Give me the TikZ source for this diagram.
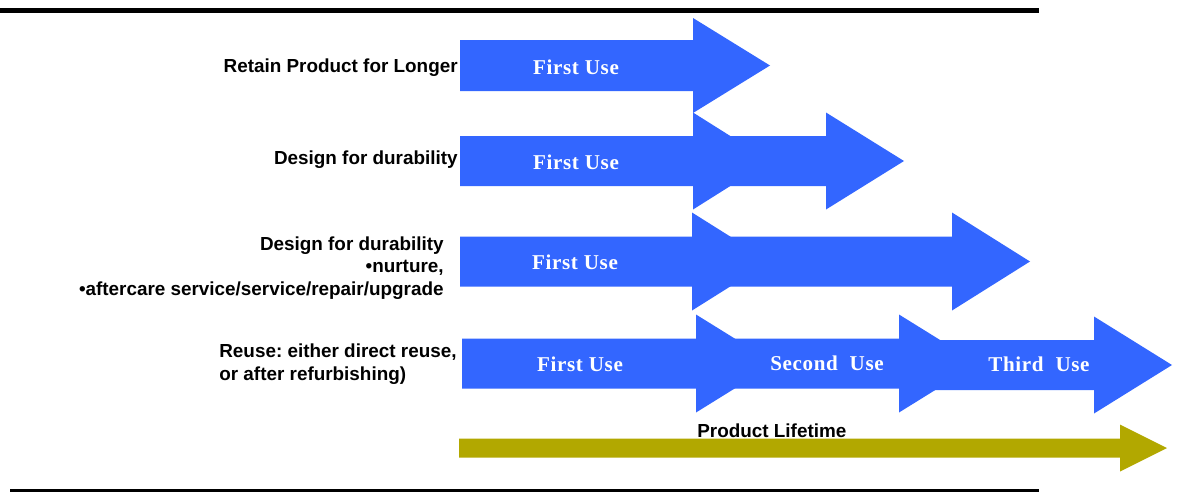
\documentclass[tikz,border=0pt]{standalone}
\usepackage{fontspec}
\setmainfont{Liberation Sans}
\newfontfamily\usefnt[LetterSpace=3]{Liberation Serif}
\definecolor{useblue}{RGB}{51,102,255}
\definecolor{lifegold}{RGB}{178,168,0}
\tikzset{
    %Define style for the texts inside the arrows
    use/.style={
           text=white,
           inner sep=0pt,
           font=\usefnt\bfseries\fontsize{12}{13}\selectfont},
    %Define style for the labels at the left
    strategy/.style={
           text=black,
           inner sep=0pt,
           font=\frenchspacing\bfseries\fontsize{10.75}{13}\selectfont},
    %Define style for the horizontal rules
    rule/.style={
           draw=black,
           line cap=butt}
}
% block arrow: colour, start x, head x, tip x, mid y, half shaft, half head
\newcommand{\blockarrow}[7]{%
  \fill[#1] (#2,#5-#6) -- (#3,#5-#6) -- (#3,#5-#7) -- (#4,#5)
    -- (#3,#5+#7) -- (#3,#5+#6) -- (#2,#5+#6) -- cycle;}

\begin{document}
\begin{tikzpicture}[x=0.02cm,y=-0.02cm]
\useasboundingbox (0,0) rectangle (1179,491);
 %rules
\draw[rule,line width=2.7pt] (0,10.5) -- (1039,10.5);
\draw[rule,line width=1.7pt] (10,490) -- (1039,490);
 %arrows
\blockarrow{useblue}{460}{693}{770}{65.5}{25.5}{47.5}
\blockarrow{useblue}{460}{693}{770}{161}{25}{48.5}
\blockarrow{useblue}{693}{826}{904}{161}{25}{48.5}
\blockarrow{useblue}{460}{692}{770}{261.5}{25}{49}
\blockarrow{useblue}{692}{952}{1030}{261.5}{25}{49}
\blockarrow{useblue}{462}{696}{775}{363.5}{25}{49}
\blockarrow{useblue}{696}{899}{978}{363.5}{25}{49}
\blockarrow{useblue}{899}{1094}{1172}{365}{25}{48.5}
\blockarrow{lifegold}{459}{1120}{1167}{448}{9.5}{23.5}
 %texts in the arrows
\node[use](first1) at (576,67){First Use};
\node[use](first2) at (576,162){First Use};
\node[use](first3) at (575,262){First Use};
\node[use](first4) at (580,364){First Use};
\node[use](second4) at (827,363){Second~~Use};
\node[use](third4) at (1039,364){Third~~Use};
 %labels
\node[strategy, anchor=east](retain) at (458,68){Retain Product for Longer};
\node[strategy, anchor=east](durable) at (458,160){Design for durability};
\node[strategy, anchor=east, align=right](nurture) at (444,268){Design for durability\\ •nurture,\\ •aftercare service/service/repair/upgrade};
\node[strategy, anchor=west, align=left](reuse) at (219,364.5){Reuse: either direct reuse,\\ or after refurbishing)};
\node[strategy, anchor=west](lifetime) at (697,431){Product Lifetime};
\end{tikzpicture}
\end{document}
